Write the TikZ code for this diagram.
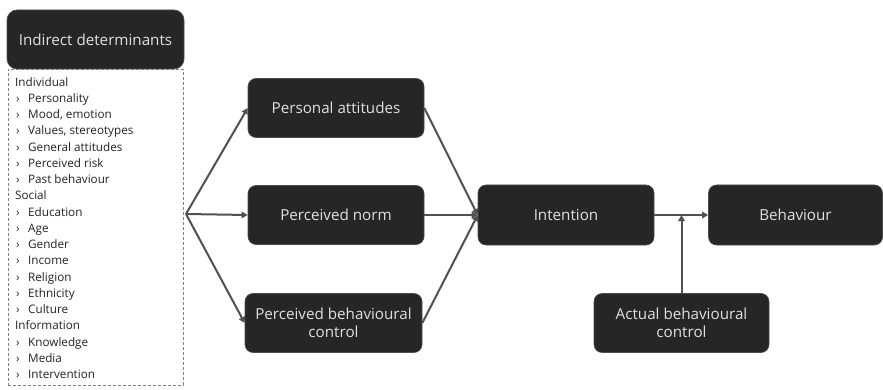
\documentclass[tikz,border=0pt]{standalone}
\usepackage{fontspec}
\setmainfont{Open Sans}
\usetikzlibrary{arrows.meta}
\definecolor{boxfill}{HTML}{262626}
\definecolor{boxtext}{HTML}{E0E0E0}
\definecolor{linegrey}{HTML}{505050}
\definecolor{listtext}{HTML}{222222}
\newcommand{\itm}{\hspace*{1pt}\makebox[12pt][l]{›}}
\begin{document}
\begin{tikzpicture}[x=1pt,y=-1pt,
  box/.style={draw=gray!60!black, line width=0.6pt, fill=boxfill, text=boxtext, rounded corners=8pt,
    align=center, font=\fontsize{15.2}{18}\selectfont, inner sep=2pt},
  conn/.style={draw=linegrey, line width=2pt, -{Triangle[length=6pt,width=6.5pt]}}]
\useasboundingbox (0,0) rectangle (883,390);
\node[box, minimum width=177pt, minimum height=59pt, rounded corners=10pt] (ind) at (95.5,39.5) {Indirect determinants};
\node[draw=gray, densely dashed, line width=0.9pt, minimum width=175pt, minimum height=316pt, inner sep=0pt] (lst) at (95.5,227) {};
\node[anchor=north west, align=left, text=listtext, inner sep=0pt, font=\fontsize{11.7}{16.25}\selectfont] (items) at (15,77) {%
Individual\\
\itm Personality\\
\itm Mood, emotion\\
\itm Values, stereotypes\\
\itm General attitudes\\
\itm Perceived risk\\
\itm Past behaviour\\
Social\\
\itm Education\\
\itm Age\\
\itm Gender\\
\itm Income\\
\itm Religion\\
\itm Ethnicity\\
\itm Culture\\
Information\\
\itm Knowledge\\
\itm Media\\
\itm Intervention};
\node[box, minimum width=176pt, minimum height=59pt] (pa) at (336,108) {Personal attitudes};
\node[box, minimum width=176pt, minimum height=59pt] (pn) at (336,215) {Perceived norm};
\node[box, minimum width=177pt, minimum height=59pt] (pbc) at (333.5,323) {Perceived behavioural\\control};
\node[box, minimum width=176pt, minimum height=60pt] (int) at (566,215) {Intention};
\node[box, minimum width=174pt, minimum height=60pt] (beh) at (795.5,215) {Behaviour};
\node[box, minimum width=175pt, minimum height=59pt] (act) at (681.5,323) {Actual behavioural\\control};
\coordinate (fan) at (186,214);
\coordinate (join) at (681.5,215);
\draw[conn] (fan) -- (pa.west);
\draw[conn] (fan) -- (pn.west);
\draw[conn] (fan) -- (pbc.west);
\draw[conn] (pa.east) -- (int.west);
\draw[conn] (pn.east) -- (int.west);
\draw[conn] (pbc.east) -- (int.west);
\draw[conn] (int.east) -- (beh.west);
\draw[conn] (act.north) -- (join);
\end{tikzpicture}
\end{document}
